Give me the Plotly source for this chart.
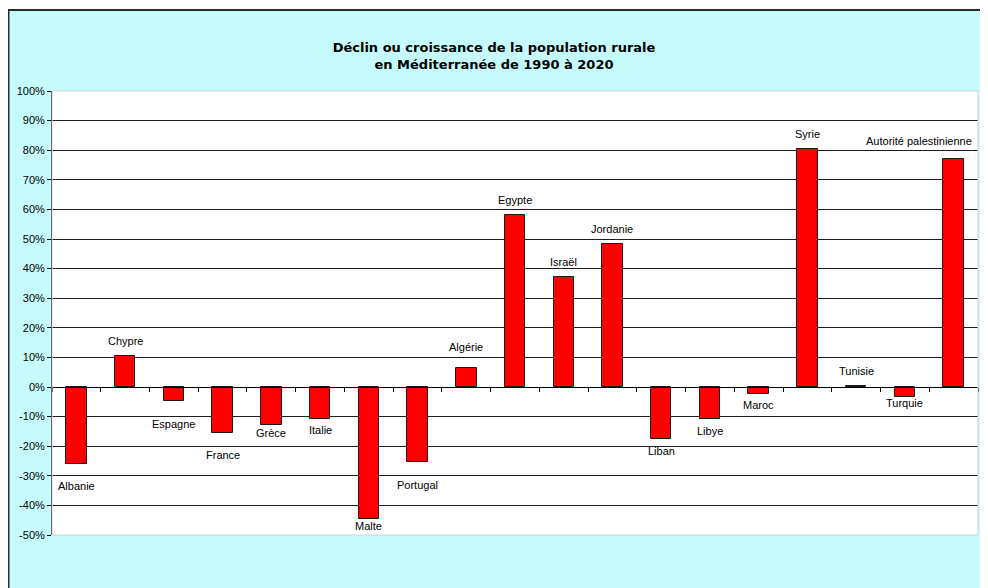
import plotly.graph_objs as go

# donnees (evolution 1990-2020, en %)
pays = ["Albanie", "Chypre", "Espagne", "France", "Grèce", "Italie", "Malte",
        "Portugal", "Algérie", "Egypte", "Israël", "Jordanie", "Liban", "Libye",
        "Maroc", "Syrie", "Tunisie", "Turquie", "Autorité palestinienne"]
evolution = [-26.0, 10.4, -4.6, -15.5, -13.0, -10.9, -44.5,
             -25.4, 6.4, 58.1, 37.3, 48.2, -17.5, -10.9,
             -2.2, 80.5, 0.5, -3.5, 76.9]

y_ticks = [-50, -40, -30, -20, -10, 0, 10, 20, 30, 40, 50, 60, 70, 80, 90, 100]
y_tick_labels = ["-50%", "-40%", "-30%", "-20%", "-10%", "0%", "10%", "20%",
                 "30%", "40%", "50%", "60%", "70%", "80%", "90%", "100%"]
y_min, y_max = -50, 100

titre = "Déclin ou croissance de la population rurale<br>en Méditerranée de 1990 à 2020"

# decalage des etiquettes (pixels) par rapport au bout de la barre
decalage_y = {"Albanie": 22, "Espagne": 23, "France": 22, "Grèce": 8, "Italie": 11,
              "Malte": 7, "Portugal": 23, "Algérie": 21, "Liban": 12, "Libye": 12,
              "Maroc": 11, "Turquie": 6, "Tunisie": 15, "Autorité palestinienne": 18}
decalage_x = {"Autorité palestinienne": -35}

# la page html a une marge de 8 px et la zone visible s'arrete vers 980 px
W, H = 972, 580
ML, MR, MT, MB = 44, 2, 83, 53
PW, PH = W - ML - MR, H - MT - MB
CYAN = "#c6fbfd"
FONT = "Arial, Liberation Sans, sans-serif"


def px(x):
    return (x - ML) / PW


def py(y):
    return (H - MB - y) / PH


barres = go.Bar(
    x=pays,
    y=evolution,
    width=0.42,
    marker=dict(color="#ff0000", line=dict(color="#1a1a1a", width=1)),
    hoverinfo="x+y",
)

annotations = []
for nom, val in zip(pays, evolution):
    d = decalage_y.get(nom, 15)
    annotations.append(dict(
        x=nom, y=val, xref="x", yref="y",
        text=nom, showarrow=False,
        yanchor="middle", xanchor="center",
        yshift=d if val >= 0 else -d,
        xshift=decalage_x.get(nom, 0),
        font=dict(family=FONT, size=11, color="black"),
    ))

shapes = [
    # bande blanche au-dessus du cadre
    dict(type="rect", xref="paper", yref="paper", x0=px(0), x1=px(W), y0=py(1), y1=py(0),
         fillcolor="white", line=dict(width=0), layer="below"),
    # cadre du graphique (haut et gauche)
    dict(type="line", xref="paper", yref="paper", x0=px(0), x1=px(W), y0=py(2), y1=py(2),
         line=dict(color="#2b2b2b", width=2)),
    dict(type="line", xref="paper", yref="paper", x0=px(0.5), x1=px(0.5), y0=py(2), y1=py(H),
         line=dict(color="#2b2b2b", width=2)),
    # bord de la zone de tracé
    dict(type="rect", xref="x domain", yref="y domain", x0=0, x1=1, y0=0, y1=1,
         line=dict(color="#d2d2d2", width=1), layer="above"),
]

layout = go.Layout(
    width=W, height=H,
    margin=dict(l=ML, r=MR, t=MT, b=MB),
    paper_bgcolor=CYAN,
    plot_bgcolor="white",
    showlegend=False,
    title=dict(text=titre, x=0.5, xanchor="center", y=1 - 44 / H, yanchor="middle",
               font=dict(family="DejaVu Sans", size=13, color="black", weight="bold")),
    xaxis=dict(
        type="category",
        range=[-0.5, len(pays) - 0.5],
        anchor="free",
        position=(0 - y_min) / (y_max - y_min),
        showline=True, linecolor="black", linewidth=1,
        ticks="outside", tickson="boundaries", ticklen=4, tickcolor="black",
        showticklabels=False, showgrid=False, zeroline=False,
    ),
    yaxis=dict(
        range=[y_min, y_max],
        tickvals=y_ticks, ticktext=y_tick_labels,
        showline=True, linecolor="black", linewidth=1,
        ticks="outside", ticklen=4, tickcolor="black",
        showgrid=True, gridcolor="#1e1e1e", gridwidth=1,
        zeroline=False,
        tickfont=dict(family=FONT, size=11, color="black"),
    ),
    annotations=annotations,
    shapes=shapes,
    bargap=0,
)

fig = go.Figure(data=[barres], layout=layout)
fig.write_html("out.html")
